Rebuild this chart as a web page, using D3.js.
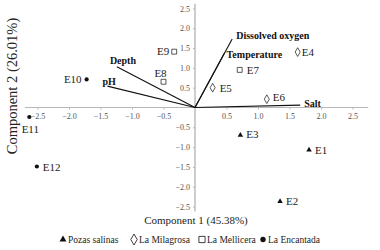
<!DOCTYPE html>
<html><head><meta charset="utf-8">
<script src="https://cdn.jsdelivr.net/npm/d3@7"></script>
<style>body{margin:0;background:#fff}svg{display:block}svg text{font-family:"Liberation Serif","Times New Roman",serif}</style>
</head><body>
<svg id="c" width="380" height="250"></svg>
<script>
const sites = ["E1","E2","E3","E4","E5","E6","E7","E8","E9","E10","E11","E12"];
const groups = ["Pozas salinas","Pozas salinas","Pozas salinas","La Milagrosa","La Milagrosa","La Milagrosa","La Mellicera","La Mellicera","La Mellicera","La Encantada","La Encantada","La Encantada"];
const pc1 = [1.81, 1.35, 0.72, 1.63, 0.28, 1.14, 0.71, -0.50, -0.33, -1.72, -2.63, -2.51];
const pc2 = [-1.07, -2.37, -0.70, 1.40, 0.50, 0.21, 0.95, 0.65, 1.41, 0.71, -0.24, -1.49];
const variables = ["Dissolved oxygen","Temperature","Salt","Depth","pH"];
const load1 = [0.59, 0.47, 1.67, -1.24, -1.39];
const load2 = [1.73, 1.38, 0.06, 1.03, 0.54];
const xTicks = [-2.5,-2.0,-1.5,-1.0,-0.5,0.5,1.0,1.5,2.0,2.5];
const yTicks = [2.5,2.0,1.5,1.0,0.5,-0.5,-1.0,-1.5,-2.0,-2.5];
const legendItems = ["Pozas salinas","La Milagrosa","La Mellicera","La Encantada"];

const svg = d3.select("#c");
const x = d3.scaleLinear().domain([-2.5, 2.5]).range([37.5, 352.5]);
const y = d3.scaleLinear().domain([-2.5, 2.5]).range([206.5, 8.5]);

const tickFs = 8, ptFs = 11, varFs = 10, xTitleFs = 11, yTitleFs = 14.5, legFs = 9.5;

const symMap = {
  "Pozas salinas": {type: d3.symbolTriangle, size: 13, fill: "#111", stroke: "none"},
  "La Milagrosa": {type: d3.symbolDiamond, size: 22, fill: "#fff", stroke: "#111"},
  "La Mellicera": {type: d3.symbolSquare, size: 24, fill: "#fff", stroke: "#111"},
  "La Encantada": {type: d3.symbolCircle, size: 14, fill: "#111", stroke: "none"}
};

function draw() {
  svg.selectAll("*").remove();
  const axisColor = "#b8b8b8";
  const xa = svg.append("g").attr("transform", `translate(0,${y(0)})`)
    .call(d3.axisBottom(x).tickValues(xTicks).tickSize(2).tickSizeOuter(0).tickFormat(d3.format(".1f")));
  xa.attr("font-family", null);
  xa.select(".domain").remove();
  xa.insert("line", ":first-child").attr("x1", x(-2.7)).attr("x2", x(2.75)).attr("stroke", axisColor);
  xa.selectAll(".tick line").attr("stroke", axisColor);
  xa.selectAll(".tick text").style("font-size", tickFs + "px").attr("fill", "#555").attr("y", 6).attr("dy", "0.72em");

  const ya = svg.append("g").attr("transform", `translate(${x(0)},0)`)
    .call(d3.axisLeft(y).tickValues(yTicks).tickSize(2).tickSizeOuter(0).tickFormat(d3.format(".1f")));
  ya.attr("font-family", null);
  ya.select(".domain").remove();
  ya.insert("line", ":first-child").attr("y1", y(2.62)).attr("y2", y(-2.62)).attr("stroke", axisColor).attr("stroke-width", 1.4);
  ya.selectAll(".tick line").attr("stroke", axisColor);
  ya.selectAll(".tick text").style("font-size", tickFs + "px").attr("fill", "#555").attr("x", -5);

  // loading vectors
  svg.append("g").selectAll("line").data(variables).join("line")
    .attr("x1", x(0)).attr("y1", y(0))
    .attr("x2", (d,i) => x(load1[i])).attr("y2", (d,i) => y(load2[i]))
    .attr("stroke", "#111").attr("stroke-width", 1.1);

  const varLabelPos = {
    "Dissolved oxygen": [4, 0],
    "Temperature": [2, 5],
    "Salt": [4, 2],
    "Depth": [-7, -3],
    "pH": [-5, -1]
  };
  svg.append("g").selectAll("text").data(variables).join("text")
    .attr("x", (d,i) => x(load1[i]) + varLabelPos[d][0])
    .attr("y", (d,i) => y(load2[i]) + varLabelPos[d][1])
    .style("font-size", varFs + "px").attr("font-weight", "bold").attr("fill", "#111")
    .text(d => d);

  // site markers
  svg.append("g").selectAll("path").data(sites).join("path")
    .attr("transform", (d,i) => `translate(${x(pc1[i])},${y(pc2[i])})`)
    .attr("d", (d,i) => d3.symbol().type(symMap[groups[i]].type).size(symMap[groups[i]].size)())
    .attr("fill", (d,i) => symMap[groups[i]].fill)
    .attr("stroke", (d,i) => symMap[groups[i]].stroke)
    .attr("stroke-width", 0.7);

  const ptLabelPos = {
    E1: [6, 4, "start"], E2: [6, 4, "start"], E3: [6, 3, "start"], E4: [4, 4, "start"],
    E5: [7, 4, "start"], E6: [6, 2, "start"], E7: [7, 4, "start"], E8: [-3, -5, "middle"],
    E9: [-5, 3, "end"], E10: [-5, 4, "end"], E11: [1, 16, "middle"], E12: [6, 4, "start"]
  };
  svg.append("g").selectAll("text").data(sites).join("text")
    .attr("x", (d,i) => x(pc1[i]) + ptLabelPos[d][0])
    .attr("y", (d,i) => y(pc2[i]) + ptLabelPos[d][1])
    .attr("text-anchor", d => ptLabelPos[d][2])
    .style("font-size", ptFs + "px").attr("fill", "#222")
    .text(d => d);

  // axis titles
  svg.append("text").attr("x", 196).attr("y", 224).attr("text-anchor", "middle")
    .style("font-size", xTitleFs + "px").attr("fill", "#222").text("Component 1 (45.38%)");
  svg.append("text").attr("transform", "translate(17,86) rotate(-90)").attr("text-anchor", "middle")
    .style("font-size", yTitleFs + "px").attr("fill", "#222").text("Component 2 (26.01%)");

  // legend
  const legendX = [68, 139, 207, 268];
  const lg = svg.append("g");
  const ly = 243;
  legendItems.forEach((name, i) => {
    const s = symMap[name];
    lg.append("path").attr("transform", `translate(${legendX[i] - 5},${ly - 3.5})`)
      .attr("d", d3.symbol().type(s.type).size(s.size * 1.6)())
      .attr("fill", s.fill).attr("stroke", s.stroke).attr("stroke-width", 0.8);
    lg.append("text").attr("x", legendX[i]).attr("y", ly)
      .style("font-size", legFs + "px").attr("fill", "#222").text(name);
  });
}
draw();
if (document.fonts && document.fonts.ready) document.fonts.ready.then(draw);
</script>
</body></html>
